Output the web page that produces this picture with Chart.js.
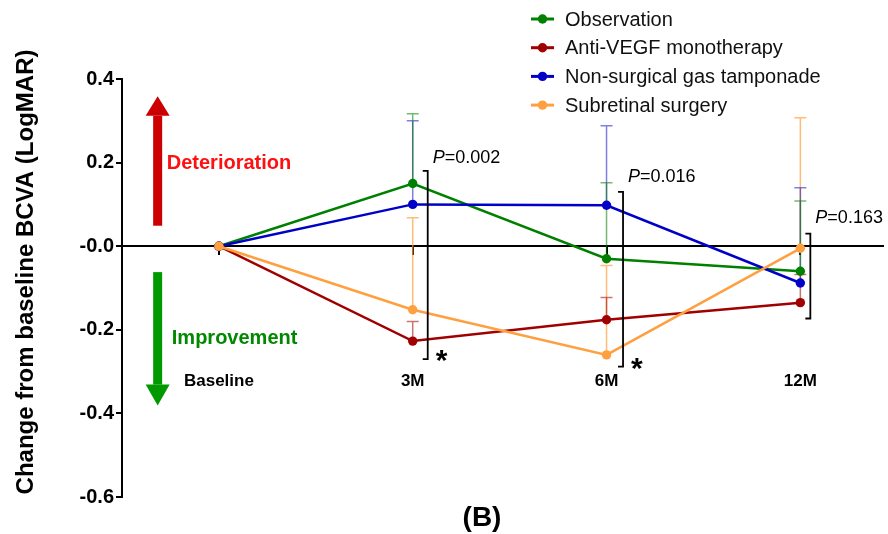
<!DOCTYPE html>
<html>
<head>
<meta charset="utf-8">
<script src="https://cdn.jsdelivr.net/npm/chart.js@4.4.0/dist/chart.umd.min.js"></script>
<style>
  html, body { margin: 0; padding: 0; background: #fff; }
  canvas { display: block; }
</style>
</head>
<body>
<canvas id="chart" width="888" height="534"></canvas>
<script>
// Time points and mean change in BCVA (LogMAR) per treatment group
const categories = ['Baseline', '3M', '6M', '12M'];
const seriesNames = ['Observation', 'Anti-VEGF monotherapy', 'Non-surgical gas tamponade', 'Subretinal surgery'];

const observation  = [0, 0.15, -0.03, -0.06];
const antiVEGF     = [0, -0.227, -0.176, -0.135];
const gasTamponade = [0, 0.10, 0.098, -0.088];
const subretinal   = [0, -0.152, -0.26, -0.005];

// Upper error bar lengths (SD)
const observationSD  = [0, 0.167, 0.182, 0.168];
const antiVEGFSD     = [0, 0.047, 0.053, 0.067];
const gasTamponadeSD = [0, 0.20, 0.19, 0.228];
const subretinalSD   = [0, 0.22, 0.214, 0.312];

// Between-group comparison at each follow-up visit
const pTimePoints = [1, 2, 3];
const pValues     = ['0.002', '0.016', '0.163'];
const significant = [true, true, false];
const bracketTop    = [0.18, 0.13, 0.03];
const bracketBottom = [-0.27, -0.288, -0.173];

const yTicks = [-0.6, -0.4, -0.2, 0, 0.2, 0.4];

const FONT = '"Liberation Sans", Arial, Helvetica, sans-serif';
const colors = ['#008000', '#a00000', '#0000c8', '#ffa040'];
const errColors = ['rgba(0,128,0,0.55)', 'rgba(160,0,0,0.55)', 'rgba(0,0,200,0.5)', 'rgba(255,160,64,0.7)'];
const seriesValues = [observation, antiVEGF, gasTamponade, subretinal];
const seriesSD = [observationSD, antiVEGFSD, gasTamponadeSD, subretinalSD];
const drawOrder = [3, 2, 1, 0];

const datasets = seriesValues.map((vals, i) => ({
  label: seriesNames[i],
  data: vals.map((v, k) => ({ x: k, y: v })),
  borderColor: colors[i],
  backgroundColor: colors[i],
  pointBackgroundColor: colors[i],
  pointBorderWidth: 0,
  pointRadius: 4.7,
  borderWidth: 2.5,
  tension: 0,
  order: drawOrder[i]
}));

// Upward error bars with caps, drawn beneath the lines
const errorBars = {
  id: 'errorBars',
  beforeDatasetsDraw(chart) {
    const { ctx, scales: { x, y } } = chart;
    ctx.save();
    ctx.lineWidth = 1.5;
    [3, 2, 1, 0].forEach(i => {
      ctx.strokeStyle = errColors[i];
      seriesValues[i].forEach((v, k) => {
        const sd = seriesSD[i][k];
        if (!sd) return;
        const px = x.getPixelForValue(k);
        const y0 = y.getPixelForValue(v);
        const y1 = y.getPixelForValue(v + sd);
        ctx.beginPath();
        ctx.moveTo(px, y0); ctx.lineTo(px, y1);
        ctx.moveTo(px - 6, y1); ctx.lineTo(px + 6, y1);
        ctx.stroke();
      });
    });
    ctx.restore();
  }
};

function arrow(ctx, cx, yShaftEnd, yHeadBase, yTip, color) {
  ctx.fillStyle = color;
  const top = Math.min(yShaftEnd, yHeadBase);
  ctx.fillRect(cx - 4.5, top, 9, Math.abs(yHeadBase - yShaftEnd));
  ctx.beginPath();
  ctx.moveTo(cx - 12, yHeadBase);
  ctx.lineTo(cx + 12, yHeadBase);
  ctx.lineTo(cx, yTip);
  ctx.closePath();
  ctx.fill();
}

// Direction arrows, significance brackets, legend, titles
const decorations = {
  id: 'decorations',
  afterDraw(chart) {
    const { ctx, scales: { x, y } } = chart;
    ctx.save();

    // Deterioration / improvement arrows
    const ax = x.getPixelForValue(-0.316);
    arrow(ctx, ax, y.getPixelForValue(0.049), y.getPixelForValue(0.312), y.getPixelForValue(0.359), '#cc0000');
    arrow(ctx, ax, y.getPixelForValue(-0.062), y.getPixelForValue(-0.331), y.getPixelForValue(-0.381), '#009900');

    ctx.textBaseline = 'middle';
    ctx.textAlign = 'left';
    ctx.font = 'bold 20px ' + FONT;
    ctx.fillStyle = '#ff1010';
    ctx.fillText('Deterioration', x.getPixelForValue(-0.269), y.getPixelForValue(0.199));
    ctx.fillStyle = '#008800';
    ctx.fillText('Improvement', x.getPixelForValue(-0.243), y.getPixelForValue(-0.221));

    // Brackets with P values
    const bracketOffset = [15, 16.5, 10];
    const labelDy = [-13, -15, -16];
    ctx.strokeStyle = '#000';
    ctx.lineWidth = 1.8;
    pTimePoints.forEach((t, j) => {
      const bx = x.getPixelForValue(t) + bracketOffset[j];
      const yt = y.getPixelForValue(bracketTop[j]);
      const yb = y.getPixelForValue(bracketBottom[j]);
      ctx.beginPath();
      ctx.moveTo(bx - 5, yt); ctx.lineTo(bx, yt); ctx.lineTo(bx, yb); ctx.lineTo(bx - 5, yb);
      ctx.stroke();

      ctx.fillStyle = '#000';
      ctx.textBaseline = 'middle';
      ctx.font = 'italic 18px ' + FONT;
      const lx = bx + 5;
      ctx.fillText('P', lx, yt + labelDy[j]);
      const pw = ctx.measureText('P').width;
      ctx.font = '18px ' + FONT;
      ctx.fillText('=' + pValues[j], lx + pw, yt + labelDy[j]);

      if (significant[j]) {
        ctx.font = 'bold 30px ' + FONT;
        ctx.textBaseline = 'alphabetic';
        ctx.fillText('*', bx + 8, yb + 11);
      }
    });

    // Legend
    ctx.textBaseline = 'middle';
    seriesNames.forEach((name, i) => {
      const ly = 19 + i * 28.7;
      ctx.strokeStyle = colors[i];
      ctx.lineWidth = 3;
      ctx.beginPath(); ctx.moveTo(531, ly); ctx.lineTo(554, ly); ctx.stroke();
      ctx.fillStyle = colors[i];
      ctx.beginPath(); ctx.arc(542.5, ly, 4.7, 0, Math.PI * 2); ctx.fill();
      ctx.fillStyle = '#111';
      ctx.font = '20px ' + FONT;
      ctx.fillText(name, 565, ly + 1);
    });

    // Axis title
    ctx.save();
    ctx.translate(26, 272);
    ctx.rotate(-Math.PI / 2);
    ctx.textAlign = 'center';
    ctx.textBaseline = 'middle';
    ctx.font = 'bold 24px ' + FONT;
    ctx.fillStyle = '#000';
    ctx.fillText('Change from baseline BCVA (LogMAR)', 0, 0);
    ctx.restore();

    // Panel label
    ctx.textAlign = 'center';
    ctx.textBaseline = 'middle';
    ctx.font = 'bold 28px ' + FONT;
    ctx.fillStyle = '#000';
    ctx.fillText('(B)', 482, 518);

    ctx.restore();
  }
};

new Chart(document.getElementById('chart'), {
  type: 'line',
  data: { datasets },
  plugins: [errorBars, decorations],
  options: {
    responsive: false,
    animation: false,
    layout: { padding: { top: 79, bottom: 37, left: 0, right: 0 } },
    plugins: { legend: { display: false }, tooltip: { enabled: false } },
    scales: {
      x: {
        type: 'linear',
        position: { y: 0 },
        min: -0.5,
        max: 3.428,
        afterBuildTicks: s => { s.ticks = categories.map((c, k) => ({ value: k })); },
        // labels sit well below the zero line; keep that offset from widening the side padding
        afterFit: s => { s.paddingLeft = 0; s.paddingRight = 0; },
        ticks: {
          callback: v => categories[v],
          font: { family: FONT, size: 17, weight: 'bold' },
          color: '#000',
          padding: 117,
          maxRotation: 0,
          autoSkip: false
        },
        grid: { drawOnChartArea: false, drawTicks: true, tickLength: 8, color: '#000', lineWidth: 2 },
        border: { color: '#000', width: 2 }
      },
      y: {
        type: 'linear',
        min: -0.6,
        max: 0.4,
        afterBuildTicks: s => { s.ticks = yTicks.map(v => ({ value: v })); },
        afterFit: s => { s.width = 122; },
        ticks: {
          callback: v => (Math.abs(v) < 1e-9 ? '-0.0' : v.toFixed(1)),
          font: { family: FONT, size: 20, weight: 'bold' },
          color: '#000',
          padding: 2
        },
        grid: { drawOnChartArea: false, drawTicks: true, tickLength: 6, color: '#000', lineWidth: 2 },
        border: { color: '#000', width: 2 }
      }
    }
  }
});
</script>
</body>
</html>
